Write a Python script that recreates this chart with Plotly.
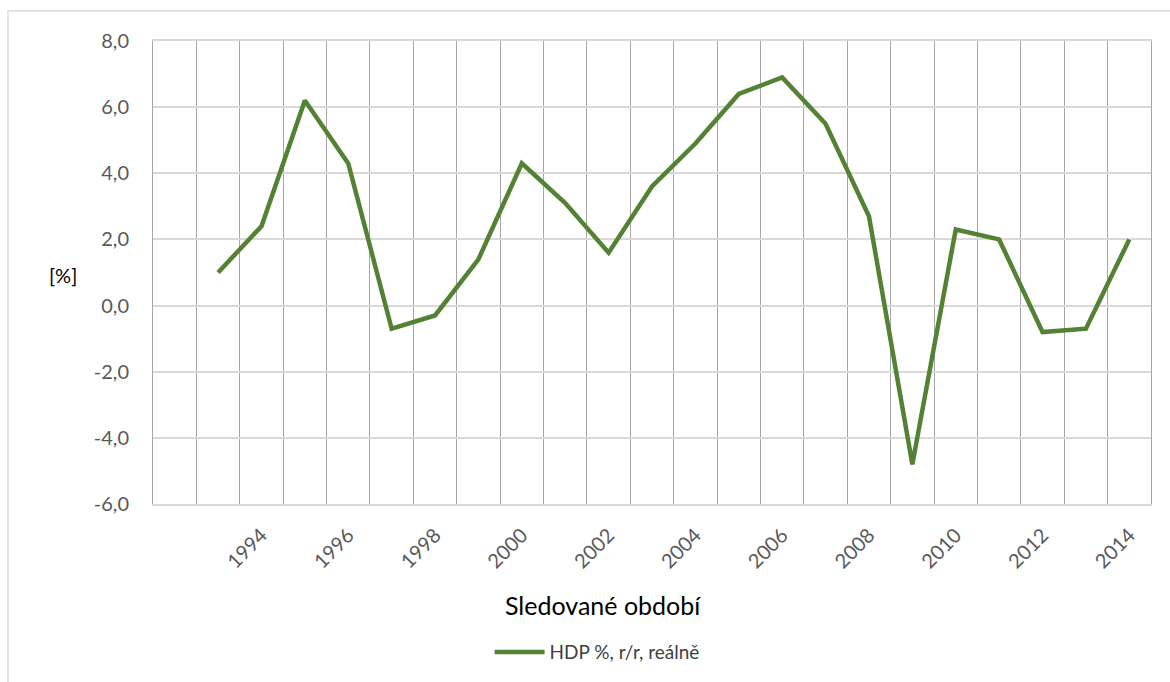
import plotly.graph_objects as go

# HDP growth, % y/y, real
years = list(range(1993, 2015))
hdp = [1.0, 2.4, 6.2, 4.3, -0.7, -0.3, 1.4, 4.3, 3.1, 1.6, 3.6,
       4.9, 6.4, 6.9, 5.5, 2.7, -4.8, 2.3, 2.0, -0.8, -0.7, 2.0]

x_ticks = list(range(1994, 2015, 2))
y_ticks = [-6, -4, -2, 0, 2, 4, 6, 8]
y_ticktext = ["-6,0", "-4,0", "-2,0", "0,0", "2,0", "4,0", "6,0", "8,0"]

font_family = "Lato, 'Open Sans', sans-serif"
green = "#548235"

fig = go.Figure()
fig.add_trace(go.Scatter(
    x=years, y=hdp,
    mode="lines",
    name="HDP %, r/r, reálně",
    line=dict(color=green, width=4.5),
))

fig.update_xaxes(
    range=[1991.5, 2014.5],
    tickmode="array",
    tickvals=x_ticks,
    ticktext=[str(y) for y in x_ticks],
    tickangle=-45,
    showgrid=False,
    zeroline=False,
    showline=True,
    mirror=True,
    linecolor="#d9d9d9",
    linewidth=1.5,
    ticks="",
    automargin=False,
    ticklabelstandoff=10,
    tickfont=dict(family=font_family, size=20, color="#595959"),
    minor=dict(tick0=1991.5, dtick=1, showgrid=True,
               gridcolor="#a6a6a6", gridwidth=1),
)
fig.update_yaxes(
    range=[-6, 8],
    tickmode="array",
    tickvals=y_ticks,
    ticktext=y_ticktext,
    showgrid=True,
    gridcolor="#d9d9d9",
    gridwidth=1.5,
    zeroline=False,
    showline=True,
    mirror=True,
    linecolor="#a6a6a6",
    linewidth=1,
    ticks="",
    automargin=False,
    ticklabelstandoff=19,
    tickfont=dict(family=font_family, size=20, color="#595959"),
)

fig.update_layout(
    width=1170, height=682,
    margin=dict(l=153, r=19, t=41, b=178, autoexpand=False),
    plot_bgcolor="white",
    paper_bgcolor="white",
    font=dict(family=font_family),
    showlegend=True,
    legend=dict(
        orientation="h",
        x=0.445, xanchor="center",
        y=-0.32, yanchor="middle",
        font=dict(family=font_family, size=19, color="#404040"),
        itemwidth=50,
    ),
    annotations=[
        dict(text="Sledované období", xref="paper", yref="paper",
             x=0.4507, y=-0.218, xanchor="center", yanchor="middle",
             showarrow=False,
             font=dict(family=font_family, size=25, color="#000000")),
        dict(text="[%]", xref="paper", yref="paper",
             x=-0.0906, y=0.494, xanchor="center", yanchor="middle",
             showarrow=False,
             font=dict(family=font_family, size=20, color="#000000")),
    ],
    shapes=[
        dict(type="rect", xref="paper", yref="paper",
             x0=-0.1453, x1=1.06, y0=-0.45, y1=1.0648,
             line=dict(color="#d9d9d9", width=1.5), layer="below"),
    ],
)

# drop the default 8px page margin so the figure sits at (0, 0)
fig.write_html("out.html", config={"displayModeBar": False},
               post_script="document.body.style.margin='0';")
